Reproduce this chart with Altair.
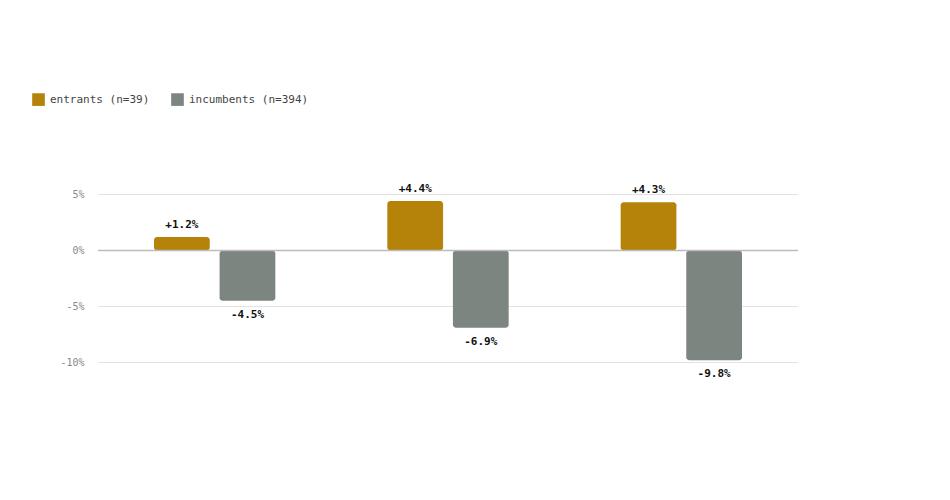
import altair as alt
import pandas as pd

horizons = ["3 months", "6 months", "12 months"]
entrants = [1.2, 4.4, 4.3]
incumbents = [-4.5, -6.9, -9.8]
series = ["entrants (n=39)", "incumbents (n=394)"]
colors = ["#b5820a", "#7d8580"]

rows = []
for h, e, i in zip(horizons, entrants, incumbents):
    rows.append({"h": h, "s": series[0], "v": e})
    rows.append({"h": h, "s": series[1], "v": i})
df = pd.DataFrame(rows)
df["lab"] = df["v"].map(lambda v: f"{v:+.1f}%")
df["pos"] = df["v"] >= 0

mono = "DejaVu Sans Mono"
x = alt.X("h:N", sort=horizons, scale=alt.Scale(paddingInner=0.48, paddingOuter=0.24),
          axis=alt.Axis(title="median return measured forward from the promotion date", labelAngle=0,
                        ticks=False, domain=False, labelPadding=26, titlePadding=12,
                        labelFont=mono, labelFontSize=11, labelColor="#333",
                        titleFont=mono, titleFontSize=10, titleFontWeight="normal", titleColor="#777"))
xo = alt.XOffset("s:N", sort=series, scale=alt.Scale(paddingInner=0.15))
y = alt.Y("v:Q", scale=alt.Scale(domain=[-13, 7], nice=False),
          axis=alt.Axis(title=None, values=[5, 0, -5, -10], labelExpr="datum.value + '%'",
                        ticks=False, domain=False, labelPadding=14, gridColor="#e2e2e2",
                        labelFont=mono, labelFontSize=10, labelColor="#888"))

bars = alt.Chart(df).mark_bar(cornerRadius=3).encode(
    x=x, xOffset=xo, y=y, y2=alt.datum(0),
    color=alt.Color("s:N", sort=series, scale=alt.Scale(domain=series, range=colors),
                    legend=alt.Legend(title=None, orient="none", legendX=-67, legendY=-80,
                                      direction="horizontal", symbolType="square", symbolSize=160,
                                      labelFont=mono, labelFontSize=11, labelColor="#444",
                                      columnPadding=20)))
zero = alt.Chart(pd.DataFrame({"z": [0]})).mark_rule(color="#bcbcbc", strokeWidth=1.5).encode(y="z:Q")
labpos = alt.Chart(df[df["pos"]]).mark_text(dy=-12, font=mono, fontSize=11, fontWeight="bold", color="#111").encode(
    x=x, xOffset=xo, y=y, text="lab:N")
labneg = alt.Chart(df[~df["pos"]]).mark_text(dy=14, font=mono, fontSize=11, fontWeight="bold", color="#111").encode(
    x=x, xOffset=xo, y=y, text="lab:N")

chart = alt.layer(bars, zero, labpos, labneg).properties(
    width=700, height=224,
    title=alt.TitleParams(
        "FIGURE 7 · POST-ADMISSION RETURNS, ENTRANTS VS INCUMBENTS",
        subtitle="Median return measured forward from the promotion date, each intake's entrants against the incumbents of that same date.",
        anchor="start", dx=-67, offset=98, font=mono, fontSize=13, fontWeight="bold", color="#111",
        subtitleFont="DejaVu Serif", subtitleFontSize=14, subtitleColor="#555", subtitlePadding=9),
    autosize=alt.AutoSizeParams(type="none"),
    padding={"left": 90, "top": 164, "right": 0, "bottom": 0},
).configure(background="white", view=alt.ViewConfig(stroke=None))

chart.save("out.html", embed_options={"renderer": "svg", "actions": False})
